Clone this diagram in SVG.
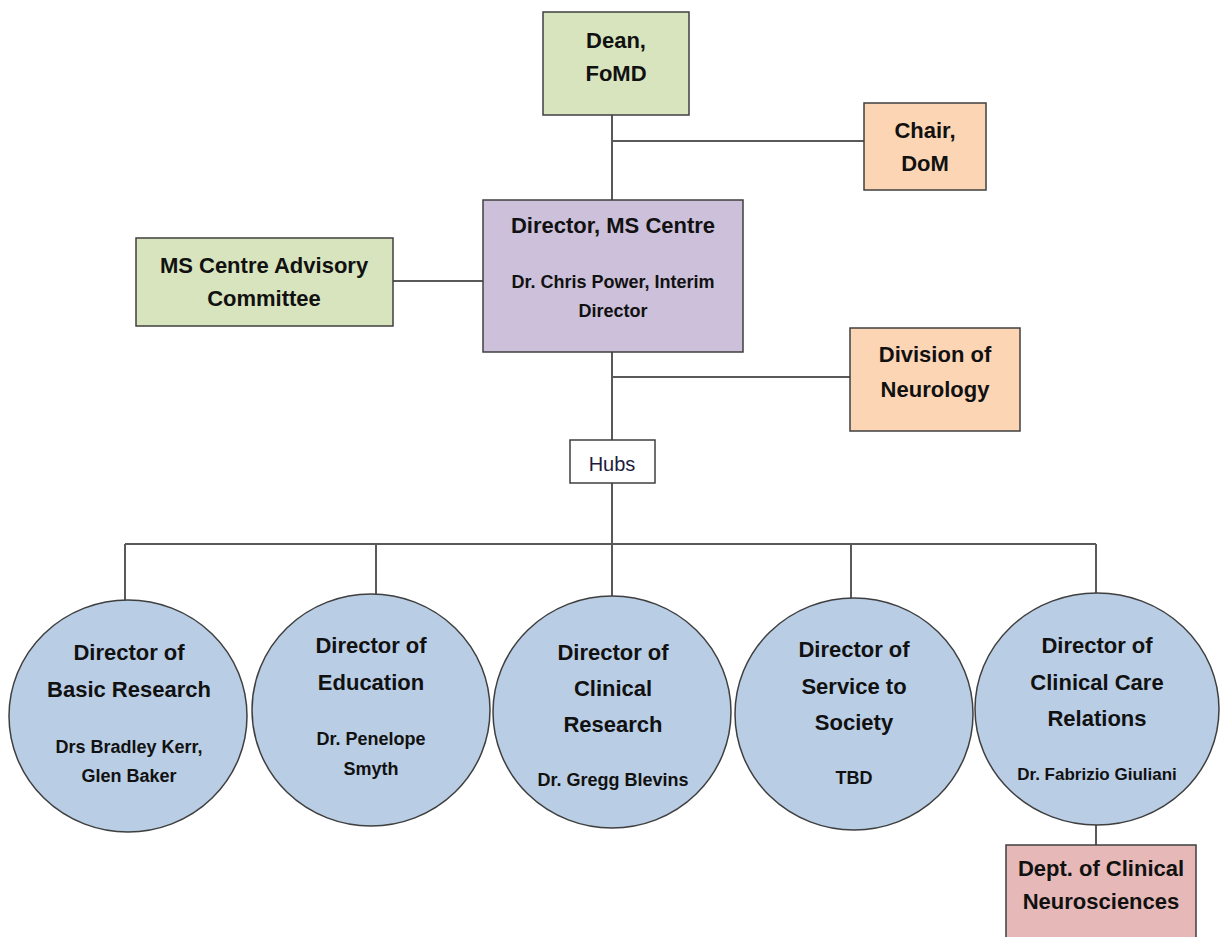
<svg xmlns="http://www.w3.org/2000/svg" width="1220" height="937" viewBox="0 0 1220 937">
<style>
.b{stroke:#3f3f3f;stroke-width:1.5}
.c{stroke:#3f3f3f;stroke-width:1.5;fill:#b9cde5}
.t{font-family:"Liberation Sans",Arial,sans-serif;font-weight:bold;font-size:22px;fill:#111;text-anchor:middle;dominant-baseline:central}
.s{font-size:18px}
.x{font-size:17px}
.l{stroke:#595959;stroke-width:2;fill:none}
</style>
<rect width="1220" height="937" fill="#fff"/>
<g id="connectors">
<path class="l" d="M612 115V200M612 141H864M393 281H483M612 352V440M612 377H850M612 483V544M125 544H1096M125 544V601M376 544V594M612 544V597M851 544V598M1096 544V594M1096 825V845"/>
</g>
<g id="dean"><rect class="b" x="543" y="12" width="146" height="103" fill="#d7e4bd"/><text class="t" x="616" y="40">Dean,</text><text class="t" x="616" y="73">FoMD</text></g>
<g id="chair"><rect class="b" x="864" y="103" width="122" height="87" fill="#fcd5b5"/><text class="t" x="925" y="130">Chair,</text><text class="t" x="925" y="163">DoM</text></g>
<g id="director"><rect class="b" x="483" y="200" width="260" height="152" fill="#ccc0da"/><text class="t" x="613" y="225">Director, MS Centre</text><text class="t s" x="613" y="282">Dr. Chris Power, Interim</text><text class="t s" x="613" y="311">Director</text></g>
<g id="advisory"><rect class="b" x="136" y="238" width="257" height="88" fill="#d7e4bd"/><text class="t" x="264" y="265">MS Centre Advisory</text><text class="t" x="264" y="298">Committee</text></g>
<g id="neurology"><rect class="b" x="850" y="328" width="170" height="103" fill="#fcd5b5"/><text class="t" x="935" y="354">Division of</text><text class="t" x="935" y="389">Neurology</text></g>
<g id="hubs"><rect class="b" x="570" y="440" width="85" height="43" fill="#fff"/><text class="t" x="612" y="464" style="font-weight:normal;font-size:20px;fill:#1c1c3c">Hubs</text></g>
<g id="basic"><ellipse class="c" cx="128" cy="716" rx="119" ry="116"/><text class="t" x="129" y="652">Director of</text><text class="t" x="129" y="689">Basic Research</text><text class="t s" x="129" y="747">Drs Bradley Kerr,</text><text class="t s" x="129" y="776">Glen Baker</text></g>
<g id="education"><ellipse class="c" cx="371" cy="710" rx="119" ry="116"/><text class="t" x="371" y="645">Director of</text><text class="t" x="371" y="682">Education</text><text class="t s" x="371" y="739">Dr. Penelope</text><text class="t s" x="371" y="769">Smyth</text></g>
<g id="clinical"><ellipse class="c" cx="612" cy="712" rx="119" ry="116"/><text class="t" x="613" y="652">Director of</text><text class="t" x="613" y="688">Clinical</text><text class="t" x="613" y="724">Research</text><text class="t s" x="613" y="780">Dr. Gregg Blevins</text></g>
<g id="service"><ellipse class="c" cx="854" cy="714" rx="119" ry="116"/><text class="t" x="854" y="649">Director of</text><text class="t" x="854" y="686">Service to</text><text class="t" x="854" y="722">Society</text><text class="t s" x="854" y="778">TBD</text></g>
<g id="care"><ellipse class="c" cx="1097" cy="709" rx="122" ry="116"/><text class="t" x="1097" y="645">Director of</text><text class="t" x="1097" y="682">Clinical Care</text><text class="t" x="1097" y="718">Relations</text><text class="t x" x="1097" y="774">Dr. Fabrizio Giuliani</text></g>
<g id="neurosciences"><rect class="b" x="1006" y="845" width="190" height="100" fill="#e6b9b8"/><text class="t" x="1101" y="868">Dept. of Clinical</text><text class="t" x="1101" y="901">Neurosciences</text></g>
</svg>
